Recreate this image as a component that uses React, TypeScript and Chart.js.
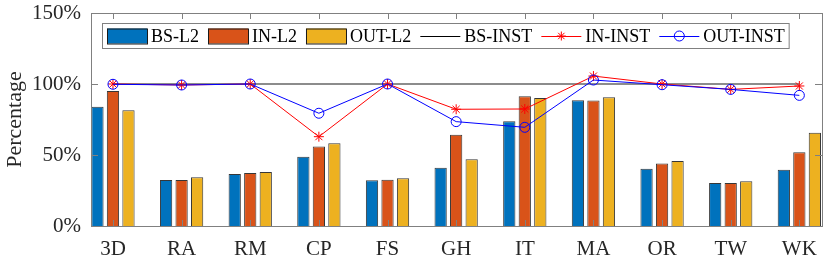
import React, { useEffect, useRef } from 'react';
import { Chart, registerables } from 'chart.js';

Chart.register(...registerables);

const categories = ['3D', 'RA', 'RM', 'CP', 'FS', 'GH', 'IT', 'MA', 'OR', 'TW', 'WK'];
const bsL2 = [84, 32.4, 36.6, 48.8, 32.2, 41, 73.7, 88.5, 40.4, 30.3, 39.7];
const inL2 = [95, 32.4, 37.3, 55.9, 32.6, 64.3, 91.3, 88.3, 44.1, 30.3, 51.9];
const outL2 = [81.5, 34.3, 38, 58.2, 33.6, 47, 90.1, 90.6, 45.8, 31.5, 65.7];
const bsInst = [100, 100, 100, 100, 100, 100, 100, 100, 100, 100, 100];
const inInst = [100, 99.3, 100, 62.9, 100, 82.2, 82.4, 105.6, 100, 96.2, 98.6];
const outInst = [99.8, 99.3, 100, 79.4, 100, 73.5, 69.5, 102.8, 99.5, 96.2, 92];
const yTicks = [0, 50, 100, 150];
const seriesLabels = ['BS-L2', 'IN-L2', 'OUT-L2', 'BS-INST', 'IN-INST', 'OUT-INST'];

const BLUE = '#0072BD';
const ORANGE = '#D95319';
const YELLOW = '#EDB120';
const RED = '#FF0000';
const LBLUE = '#0000FF';
const AXIS = '#808080';
const TEXT = '#262626';
const FONT = '"Liberation Serif", "Times New Roman", serif';

const pts = (arr: number[]) => arr.map((v, i) => ({ x: i + 1, y: v }));

function drawStar(ctx: CanvasRenderingContext2D, x: number, y: number, r: number) {
  ctx.beginPath();
  ctx.moveTo(x - r, y); ctx.lineTo(x + r, y);
  ctx.moveTo(x, y - r); ctx.lineTo(x, y + r);
  const d = r * 0.7071;
  ctx.moveTo(x - d, y - d); ctx.lineTo(x + d, y + d);
  ctx.moveTo(x - d, y + d); ctx.lineTo(x + d, y - d);
  ctx.stroke();
}

const boxPlugin = {
  id: 'boxAndTicks',
  afterDatasetsDraw(chart: any) {
    const { ctx, chartArea: ca, scales } = chart;
    ctx.save();
    ctx.strokeStyle = AXIS;
    ctx.lineWidth = 1;
    ctx.beginPath();
    categories.forEach((_, i) => {
      const x = Math.round(scales.x.getPixelForValue(i + 1)) + 0.5;
      ctx.moveTo(x, ca.bottom); ctx.lineTo(x, ca.bottom - 6);
      ctx.moveTo(x, ca.top); ctx.lineTo(x, ca.top + 6);
    });
    yTicks.forEach((v) => {
      const y = Math.round(scales.y.getPixelForValue(v)) + 0.5;
      ctx.moveTo(ca.left, y); ctx.lineTo(ca.left + 7, y);
      ctx.moveTo(ca.right, y); ctx.lineTo(ca.right - 7, y);
    });
    ctx.stroke();
    ctx.strokeRect(Math.round(ca.left) + 0.5, Math.round(ca.top) + 0.5, Math.round(ca.right - ca.left), Math.round(ca.bottom - ca.top));
    ctx.restore();
  },
  afterDraw(chart: any) {
    const { ctx, chartArea: ca } = chart;
    ctx.save();
    ctx.font = `18px ${FONT}`;
    const widths = seriesLabels.map((l) => ctx.measureText(l).width);
    const lx = Math.round(ca.left + 11);
    const ly = Math.round(ca.top + 10);
    const lh = 25;
    let total = 5;
    widths.forEach((w, i) => { total += 44 + w + (i < widths.length - 1 ? 9 : 4); });
    ctx.fillStyle = '#fff';
    ctx.fillRect(lx, ly, total, lh);
    ctx.strokeStyle = AXIS;
    ctx.lineWidth = 1;
    ctx.strokeRect(lx + 0.5, ly + 0.5, total, lh);
    const cy = ly + lh / 2 + 0.5;
    let x = lx + 5;
    const colors = [BLUE, ORANGE, YELLOW, '#000', RED, LBLUE];
    seriesLabels.forEach((label, i) => {
      if (i < 3) {
        ctx.fillStyle = colors[i];
        ctx.fillRect(x, cy - 7.5, 40, 15);
        ctx.strokeStyle = '#1a1a1a';
        ctx.strokeRect(x + 0.5, cy - 7.5 + 0.5, 40, 15);
      } else {
        ctx.strokeStyle = colors[i];
        ctx.lineWidth = 1;
        ctx.beginPath();
        ctx.moveTo(x, Math.round(cy) + 0.5); ctx.lineTo(x + 40, Math.round(cy) + 0.5);
        ctx.stroke();
        if (i === 4) drawStar(ctx, x + 20, cy, 4.5);
        if (i === 5) { ctx.beginPath(); ctx.arc(x + 20, cy, 5, 0, Math.PI * 2); ctx.stroke(); }
      }
      ctx.fillStyle = '#000';
      ctx.textBaseline = 'middle';
      ctx.textAlign = 'left';
      ctx.fillText(label, x + 44, cy + 1);
      x += 44 + widths[i] + 9;
    });
    ctx.restore();
  },
};

export default function App() {
  const ref = useRef<HTMLCanvasElement>(null);
  useEffect(() => {
    document.body.style.margin = '0';
    const canvas = ref.current;
    if (!canvas) return;
    const barCommon = {
      type: 'bar' as const,
      borderColor: 'rgba(20,20,20,0.85)',
      borderWidth: 1,
      categoryPercentage: 0.678,
      barPercentage: 0.79,
      order: 4,
    };
    const chart = new Chart(canvas, {
      type: 'bar',
      data: {
        datasets: [
          { ...barCommon, label: seriesLabels[0], data: pts(bsL2), backgroundColor: BLUE } as any,
          { ...barCommon, label: seriesLabels[1], data: pts(inL2), backgroundColor: ORANGE } as any,
          { ...barCommon, label: seriesLabels[2], data: pts(outL2), backgroundColor: YELLOW } as any,
          { type: 'line', label: seriesLabels[3], data: pts(bsInst), borderColor: 'rgba(0,0,0,0.45)', borderWidth: 2, pointRadius: 0, order: 3 } as any,
          { type: 'line', label: seriesLabels[4], data: pts(inInst), borderColor: RED, borderWidth: 1, pointStyle: 'star', pointRadius: 5, pointBorderWidth: 1, pointBorderColor: RED, pointBackgroundColor: RED, order: 2 } as any,
          { type: 'line', label: seriesLabels[5], data: pts(outInst), borderColor: LBLUE, borderWidth: 1, pointStyle: 'circle', pointRadius: 5, pointBorderWidth: 1, pointBorderColor: LBLUE, pointBackgroundColor: 'rgba(0,0,0,0)', order: 1 } as any,
        ],
      },
      options: {
        responsive: false,
        animation: false,
        layout: { padding: { left: 0, top: 13, right: 8, bottom: 0 } },
        plugins: { legend: { display: false }, tooltip: { enabled: false } },
        scales: {
          x: {
            type: 'linear',
            offset: false,
            min: 0.68,
            max: 11.33,
            grid: { display: false, offset: false },
            border: { display: false },
            afterBuildTicks: (scale: any) => { scale.ticks = categories.map((_, i) => ({ value: i + 1 })); },
            afterFit: (scale: any) => { scale.height = 34; scale.paddingLeft = 0; scale.paddingRight = 0; },
            ticks: {
              autoSkip: false,
              maxRotation: 0,
              padding: 3,
              color: TEXT,
              font: { family: FONT, size: 21 },
              callback: (v: any) => categories[Math.round(Number(v)) - 1] ?? '',
            },
          },
          y: {
            min: 0,
            max: 150,
            grid: { display: false },
            border: { display: false },
            afterBuildTicks: (scale: any) => { scale.ticks = yTicks.map((v) => ({ value: v })); },
            afterFit: (scale: any) => { scale.width = 91; scale.paddingTop = 0; scale.paddingBottom = 0; },
            ticks: {
              padding: 2,
              color: TEXT,
              font: { family: FONT, size: 21 },
              callback: (v: any) => `${v}%`,
            },
            title: {
              display: true,
              text: 'Percentage',
              color: TEXT,
              font: { family: FONT, size: 22 },
              padding: { top: 2, bottom: 0 },
            },
          },
        },
      },
      plugins: [boxPlugin],
    });
    return () => chart.destroy();
  }, []);
  return (
    <div style={{ width: 830, height: 260 }}>
      <canvas ref={ref} width={830} height={260} style={{ display: 'block' }} />
    </div>
  );
}
